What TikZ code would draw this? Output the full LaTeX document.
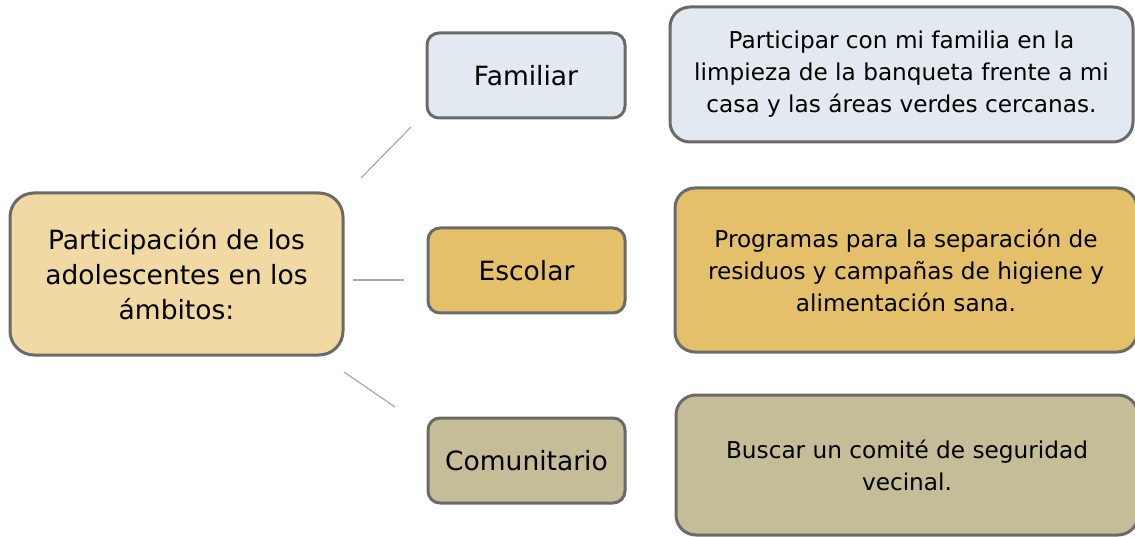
\documentclass[tikz,border=0pt]{standalone}
\usepackage{fontspec}
\setmainfont{DejaVu Sans}
\definecolor{mainfill}{HTML}{F0D9A3}
\definecolor{famfill}{HTML}{E3E9F0}
\definecolor{escfill}{HTML}{E5C06A}
\definecolor{comfill}{HTML}{C4BD98}
\definecolor{edge}{HTML}{6A6A68}
\definecolor{conn}{HTML}{A8A8A8}
\tikzset{
  box/.style={draw=edge, line width=3pt, align=center, inner sep=0pt, text=black},
  mainbox/.style={box, fill=mainfill, rounded corners=24pt, font=\fontsize{26.5}{35}\selectfont},
  labelbox/.style={box, rounded corners=12pt, font=\fontsize{26.5}{30}\selectfont},
  descbox/.style={box, rounded corners=20pt, font=\fontsize{23.2}{32}\selectfont},
  connline/.style={draw=conn, line width=1.2pt}
}
\begin{document}
\begin{tikzpicture}[x=1pt,y=-1pt]
\useasboundingbox (0,0) rectangle (1135,537);
\node[mainbox, minimum width=333pt, minimum height=162pt] (main) at (176.5,274) {Participación de los\\adolescentes en los\\ámbitos:};
\node[labelbox, fill=famfill, minimum width=198pt, minimum height=85pt] (fam) at (526,75.5) {Familiar};
\node[labelbox, fill=escfill, minimum width=197pt, minimum height=85pt] (esc) at (526.5,270.5) {Escolar};
\node[labelbox, fill=comfill, minimum width=197pt, minimum height=85pt] (com) at (526.5,460.5) {Comunitario};
\node[descbox, fill=famfill, minimum width=463pt, minimum height=135pt] (famd) at (901.5,74.5) {Participar con mi familia en la\\limpieza de la banqueta frente a mi\\casa y las áreas verdes cercanas.};
\node[descbox, fill=escfill, minimum width=462pt, minimum height=164pt] (escd) at (906,270) {Programas para la separación de\\residuos y campañas de higiene y\\alimentación sana.};
\node[descbox, fill=comfill, minimum width=462pt, minimum height=140pt] (comd) at (907,465) {Buscar un comité de seguridad\\vecinal.};
\coordinate (l1a) at (361,178);
\coordinate (l1b) at (411,127);
\coordinate (l2a) at (353,280);
\coordinate (l2b) at (404,280);
\coordinate (l3a) at (344,372);
\coordinate (l3b) at (395,407);
\draw[connline] (l1a) -- (l1b);
\draw[connline] (l2a) -- (l2b);
\draw[connline] (l3a) -- (l3b);
\end{tikzpicture}
\end{document}
